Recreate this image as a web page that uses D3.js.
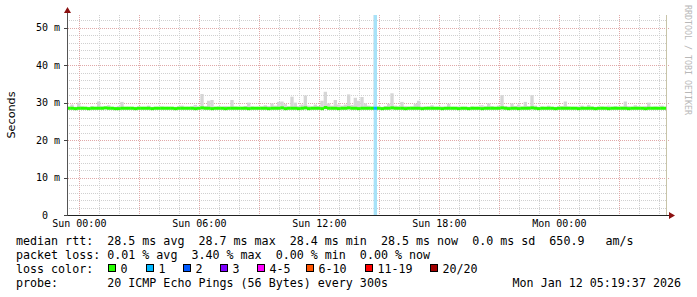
<!DOCTYPE html>
<html>
<head>
<meta charset="utf-8">
<script src="https://cdn.jsdelivr.net/npm/d3@7"></script>
<style>
    html, body { margin: 0; padding: 0; background: #ffffff; }
    svg { display: block; }
    text { white-space: pre; }
</style>
</head>
<body>
<svg id="chart"></svg>
<script>

/*
    DATA  (10 minute steps, starting Sat 23:23)
*/

var startTime = new Date(2026, 0, 10, 23, 23, 0);
var stepMinutes = 10;

var medianRtt = [
    28.5, 28.5, 28.4, 28.5, 28.5, 28.5, 28.4, 28.5, 28.5, 28.5,
    28.5, 28.6, 28.5, 28.5, 28.4, 28.4, 28.5, 28.5, 28.5, 28.5,
    28.4, 28.5, 28.5, 28.5, 28.5, 28.4, 28.5, 28.5, 28.5, 28.5,
    28.5, 28.5, 28.4, 28.5, 28.5, 28.5, 28.5, 28.5, 28.4, 28.5,
    28.6, 28.5, 28.5, 28.4, 28.5, 28.5, 28.5, 28.4, 28.5, 28.5,
    28.5, 28.5, 28.5, 28.5, 28.4, 28.5, 28.5, 28.5, 28.5, 28.5,
    28.4, 28.5, 28.5, 28.5, 28.6, 28.4, 28.5, 28.5, 28.5, 28.4,
    28.5, 28.6, 28.4, 28.5, 28.5, 28.5, 28.4, 28.7, 28.5, 28.5,
    28.5, 28.4, 28.5, 28.5, 28.6, 28.5, 28.5, 28.4, 28.5, 28.5,
    28.5, 28.5, 28.5, 28.5, 28.4, 28.5, 28.5, 28.6, 28.5, 28.5,
    28.5, 28.4, 28.5, 28.5, 28.5, 28.5, 28.4, 28.5, 28.5, 28.5,
    28.5, 28.5, 28.4, 28.5, 28.5, 28.5, 28.5, 28.4, 28.5, 28.5,
    28.4, 28.5, 28.5, 28.5, 28.4, 28.5, 28.5, 28.5, 28.5, 28.5,
    28.6, 28.5, 28.4, 28.5, 28.5, 28.4, 28.5, 28.5, 28.5, 28.6,
    28.5, 28.4, 28.5, 28.5, 28.5, 28.5, 28.4, 28.5, 28.5, 28.5,
    28.5, 28.5, 28.5, 28.4, 28.5, 28.5, 28.5, 28.5, 28.4, 28.5,
    28.5, 28.5, 28.4, 28.5, 28.5, 28.5, 28.5, 28.5, 28.4, 28.5,
    28.5, 28.5, 28.5, 28.4, 28.5, 28.5, 28.5, 28.5, 28.5, 28.5
];

// top of the smoke (slowest ping) for each step, ms
var smokeMax = [
    28.9, 29.5, 28.9, 30.0, 29.0, 28.9, 28.9, 29.1, 28.9, 30.3,
    29.0, 28.9, 29.3, 28.9, 28.9, 29.1, 30.2, 28.9, 28.9, 28.9,
    28.9, 29.0, 28.9, 28.9, 29.2, 28.9, 28.9, 28.9, 29.0, 28.9,
    28.9, 28.9, 28.9, 29.0, 29.2, 28.9, 28.9, 29.0, 29.4, 28.9,
    32.3, 29.1, 30.5, 30.7, 28.9, 29.0, 28.9, 29.1, 28.9, 30.7,
    29.0, 28.9, 28.9, 29.1, 30.0, 29.0, 28.9, 28.9, 29.0, 29.3,
    29.1, 29.8, 29.2, 30.2, 30.3, 29.6, 29.0, 31.6, 30.0, 29.1,
    29.5, 31.9, 29.2, 29.0, 29.5, 29.1, 30.5, 32.9, 29.8, 29.2,
    30.7, 29.5, 29.2, 29.5, 32.2, 29.4, 31.3, 30.5, 31.5, 29.8,
    29.2, 29.0, 60.0, 29.0, 28.9, 29.1, 29.7, 32.5, 29.2, 29.0,
    30.2, 29.1, 28.9, 29.0, 29.7, 30.5, 29.0, 28.9, 29.0, 29.3,
    28.9, 28.9, 29.0, 28.9, 29.7, 28.9, 28.9, 29.0, 28.9, 28.9,
    28.9, 29.0, 28.9, 28.9, 29.3, 29.0, 29.8, 29.1, 28.9, 29.2,
    32.0, 29.1, 29.0, 29.8, 29.1, 29.5, 29.0, 30.2, 29.1, 32.0,
    29.2, 28.9, 29.0, 28.9, 29.2, 28.9, 28.9, 29.0, 29.1, 30.3,
    29.0, 28.9, 28.9, 29.0, 29.2, 28.9, 29.4, 29.0, 28.9, 28.9,
    29.0, 28.9, 29.2, 28.9, 29.1, 28.9, 29.0, 30.3, 29.1, 28.9,
    29.3, 29.0, 28.9, 29.1, 30.0, 28.9, 29.0, 28.9, 29.2, 28.9
];
var smokeMin = 28.2;

// steps that lost pings, and how many of the 20
var lossSteps = [92];
var lossCounts = [1];

var lossLabels = ["0", "1", "2", "3", "4-5", "6-10", "11-19", "20/20"];
var lossColors = ["#26ff00", "#00b8ff", "#0059ff", "#7e00ff", "#ff00ff", "#ff5500", "#ff0000", "#a00000"];
var lossLimits = [0, 1, 2, 3, 5, 10, 19, 20];

var yTicks = [0, 10, 20, 30, 40, 50];

var legendRows = [
    "median rtt:  28.5 ms avg  28.7 ms max  28.4 ms min  28.5 ms now  0.0 ms sd  650.9   am/s",
    "packet loss: 0.01 % avg  3.40 % max  0.00 % min  0.00 % now",
    "loss color:",
    "probe:       20 ICMP Echo Pings (56 Bytes) every 300s"
];
var stampText = "Mon Jan 12 05:19:37 2026";

/*
    MARGINS
*/

var svgWidth = 697, svgHeight = 297;
var plot = { left: 67, right: 667, top: 15, bottom: 215 };
var yMax = 53.4;

var svg = d3.select("#chart")
    .attr("width", svgWidth)
    .attr("height", svgHeight);

/*
    SCALES
*/

function stepTime(i) {
    return d3.timeMinute.offset(startTime, i * stepMinutes);
}

var xScale = d3.scaleTime()
    .domain([startTime, stepTime(medianRtt.length)])
    .range([plot.left, plot.right]);

var yScale = d3.scaleLinear()
    .domain([0, yMax])
    .range([plot.bottom, plot.top]);

function lossColor(n) {
    for (var k = 0; k < lossLimits.length; k++) {
        if (n <= lossLimits[k]) return lossColors[k];
    }
    return lossColors[lossColors.length - 1];
}

/*
    GRID
*/

var grid = svg.append("g").attr("shape-rendering", "crispEdges");

var minorY = d3.range(2, yMax, 2).filter(function(v) { return v % 10 != 0; });
grid.selectAll(".ym").data(minorY).enter().append("line")
    .attr("x1", plot.left).attr("x2", plot.right)
    .attr("y1", function(d) { return Math.round(yScale(d)) + 0.5; })
    .attr("y2", function(d) { return Math.round(yScale(d)) + 0.5; })
    .attr("stroke", "#d0d0d0")
    .attr("stroke-dasharray", "1,1");

var hours = d3.timeHour.range(startTime, stepTime(medianRtt.length));
grid.selectAll(".xm").data(hours.filter(function(d) { return d.getHours() % 3 != 0; }))
    .enter().append("line")
    .attr("x1", function(d) { return Math.round(xScale(d)) + 0.5; })
    .attr("x2", function(d) { return Math.round(xScale(d)) + 0.5; })
    .attr("y1", plot.top).attr("y2", plot.bottom)
    .attr("stroke", "#d0d0d0")
    .attr("stroke-dasharray", "1,1");

grid.selectAll(".yM").data(yTicks.slice(1)).enter().append("line")
    .attr("x1", plot.left - 3).attr("x2", plot.right + 2)
    .attr("y1", function(d) { return Math.round(yScale(d)) + 0.5; })
    .attr("y2", function(d) { return Math.round(yScale(d)) + 0.5; })
    .attr("stroke", "#e0a8a8")
    .attr("stroke-dasharray", "1,1");

grid.selectAll(".xM").data(hours.filter(function(d) { return d.getHours() % 3 == 0; }))
    .enter().append("line")
    .attr("x1", function(d) { return Math.round(xScale(d)) + 0.5; })
    .attr("x2", function(d) { return Math.round(xScale(d)) + 0.5; })
    .attr("y1", plot.top).attr("y2", plot.bottom + 2)
    .attr("stroke", "#e0a8a8")
    .attr("stroke-dasharray", "1,1");

/*
    SMOKE, LOSS BAR, MEDIAN
*/

svg.append("clipPath").attr("id", "plotclip")
    .append("rect")
    .attr("x", plot.left).attr("y", plot.top)
    .attr("width", plot.right - plot.left).attr("height", plot.bottom - plot.top);

var marks = svg.append("g").attr("clip-path", "url(#plotclip)");

marks.selectAll(".smoke").data(smokeMax).enter().append("rect")
    .attr("x", function(d, i) { return xScale(stepTime(i)); })
    .attr("width", function(d, i) { return xScale(stepTime(i + 1)) - xScale(stepTime(i)); })
    .attr("y", function(d) { return yScale(d); })
    .attr("height", function(d) { return yScale(smokeMin) - yScale(d); })
    .attr("fill", "#d6d6d6");

marks.selectAll(".lossbar").data(lossSteps).enter().append("rect")
    .attr("x", function(d) { return xScale(stepTime(d)); })
    .attr("width", function(d) { return xScale(stepTime(d + 1)) - xScale(stepTime(d)); })
    .attr("y", plot.top)
    .attr("height", plot.bottom - plot.top)
    .attr("fill", "#a8e2f8");

var lossByStep = {};
lossSteps.forEach(function(s, k) { lossByStep[s] = lossCounts[k]; });

marks.selectAll(".median").data(medianRtt).enter().append("rect")
    .attr("x", function(d, i) { return xScale(stepTime(i)); })
    .attr("width", function(d, i) { return xScale(stepTime(i + 1)) - xScale(stepTime(i)) + 0.3; })
    .attr("y", function(d) { return yScale(d) - 1.5; })
    .attr("height", 3)
    .attr("fill", function(d, i) { return lossColor(lossByStep[i] || 0); });

/*
    AXES
*/

var axes = svg.append("g").attr("shape-rendering", "crispEdges");

axes.append("line")
    .attr("x1", plot.left + 0.5).attr("x2", plot.left + 0.5)
    .attr("y1", plot.bottom).attr("y2", 10)
    .attr("stroke", "#555555");

axes.append("line")
    .attr("x1", plot.left).attr("x2", plot.right + 3)
    .attr("y1", plot.bottom + 0.5).attr("y2", plot.bottom + 0.5)
    .attr("stroke", "#222222");

axes.append("line")
    .attr("x1", plot.right - 0.5).attr("x2", plot.right - 0.5)
    .attr("y1", plot.top).attr("y2", plot.bottom)
    .attr("stroke", "#c8c4a8");

axes.selectAll(".ytick").data(yTicks).enter().append("line")
    .attr("x1", plot.left - 3).attr("x2", plot.left + 1)
    .attr("y1", function(d) { return Math.round(yScale(d)) + 0.5; })
    .attr("y2", function(d) { return Math.round(yScale(d)) + 0.5; })
    .attr("stroke", "#444444");

svg.append("path")
    .attr("d", "M" + (plot.left - 3) + ",13 L" + (plot.left + 4) + ",13 L" + (plot.left + 0.5) + ",7 Z")
    .attr("fill", "#8b1010");

svg.append("path")
    .attr("d", "M" + (plot.right + 2) + "," + (plot.bottom - 3) + " L" + (plot.right + 2) + "," + (plot.bottom + 4) + " L" + (plot.right + 8) + "," + (plot.bottom + 0.5) + " Z")
    .attr("fill", "#8b1010");

var mono = "'DejaVu Sans Mono', 'Liberation Mono', monospace";

// "0" has no unit, so it sits two characters left of the others
svg.selectAll(".ylab").data(yTicks).enter().append("text")
    .attr("x", function(d) { return d == 0 ? 48 : 60; })
    .attr("y", function(d) { return yScale(d) + 3.6; })
    .attr("text-anchor", "end")
    .attr("font-family", mono)
    .attr("font-size", "10px")
    .attr("fill", "#000")
    .text(function(d) { return d == 0 ? "0" : d + " m"; });

var labelFmt = d3.timeFormat("%a %H:%M");
svg.selectAll(".xlab").data(hours.filter(function(d) { return d.getHours() % 6 == 0; }))
    .enter().append("text")
    .attr("x", function(d) { return xScale(d); })
    .attr("y", 227)
    .attr("text-anchor", "middle")
    .attr("font-family", mono)
    .attr("font-size", "10px")
    .attr("fill", "#000")
    .text(function(d) { return labelFmt(d); });

svg.append("text")
    .attr("transform", "translate(15," + ((plot.top + plot.bottom) / 2) + ") rotate(-90)")
    .attr("text-anchor", "middle")
    .attr("font-family", "'DejaVu Sans', sans-serif")
    .attr("font-size", "11.2px")
    .attr("fill", "#000")
    .text("Seconds");

svg.append("text")
    .attr("transform", "translate(685,5) rotate(90)")
    .attr("font-family", mono)
    .attr("font-size", "8.3px")
    .attr("fill", "#b8b8b8")
    .text("RRDTOOL / TOBI OETIKER");

/*
    LEGEND
*/

var rowY = [245, 259, 273, 287];
var legendFont = "11.66px";

svg.selectAll(".leg").data(legendRows).enter().append("text")
    .attr("x", 16)
    .attr("y", function(d, i) { return rowY[i]; })
    .attr("font-family", mono)
    .attr("font-size", legendFont)
    .attr("fill", "#000")
    .text(function(d) { return d; });

var boxX = [108, 146, 183, 220, 257, 306, 365, 430];
var swatch = svg.append("g").selectAll("g").data(lossLabels).enter().append("g");

swatch.append("rect")
    .attr("x", function(d, i) { return boxX[i] + 0.5; })
    .attr("y", 264.5)
    .attr("width", 7)
    .attr("height", 7)
    .attr("fill", function(d, i) { return lossColors[i]; })
    .attr("stroke", "#000")
    .attr("shape-rendering", "crispEdges");

swatch.append("text")
    .attr("x", function(d, i) { return boxX[i] + 12.5; })
    .attr("y", rowY[2])
    .attr("font-family", mono)
    .attr("font-size", legendFont)
    .attr("fill", "#000")
    .text(function(d) { return d; });

svg.append("text")
    .attr("x", 681)
    .attr("y", rowY[3])
    .attr("text-anchor", "end")
    .attr("font-family", mono)
    .attr("font-size", legendFont)
    .attr("fill", "#000")
    .text(stampText);

</script>
</body>
</html>
